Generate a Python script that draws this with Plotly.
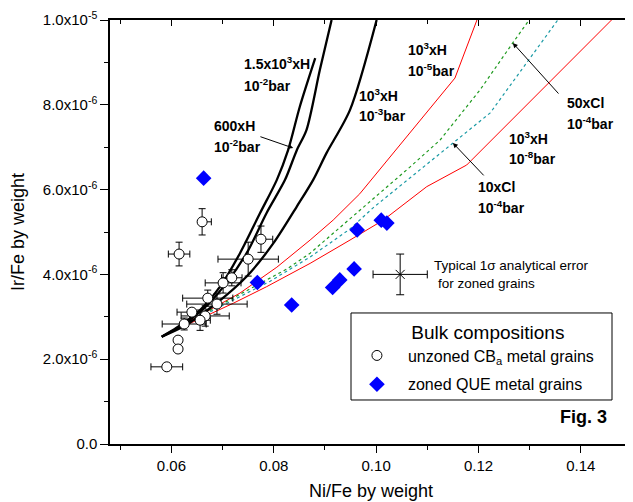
import plotly.graph_objects as go

S = 1e-6  # Ir/Fe values below are given in units of 1e-6

# ---- model curves (Ni/Fe, Ir/Fe x1e-6) ----
h1500_1e2_x = [0.0581, 0.0610, 0.0656, 0.0695, 0.0734, 0.0773, 0.0806, 0.0828, 0.0851, 0.0881]
h1500_1e2_y = [2.53, 2.74, 3.16, 3.71, 4.50, 5.44, 6.23, 6.93, 7.96, 9.10]

h600_1e2_x = [0.0581, 0.0613, 0.0662, 0.0703, 0.0747, 0.0786, 0.0822, 0.0845, 0.0864, 0.0890, 0.0913]
h600_1e2_y = [2.53, 2.74, 3.18, 3.73, 4.50, 5.45, 6.23, 6.93, 7.41, 8.82, 10.0]

h1000_1e3_x = [0.0581, 0.0623, 0.0688, 0.0747, 0.0799, 0.0845, 0.0877, 0.0903, 0.0949, 0.1001]
h1000_1e3_y = [2.53, 2.77, 3.32, 3.95, 4.73, 5.60, 6.23, 6.86, 7.88, 10.0]

h1000_1e5_x = [0.0582, 0.0734, 0.0806, 0.0871, 0.0916, 0.0968, 0.1154, 0.1197]
h1000_1e5_y = [2.54, 3.56, 4.17, 4.81, 5.28, 5.90, 8.63, 10.0]

h1000_1e8_x = [0.0582, 0.0721, 0.0786, 0.0871, 0.0949, 0.1014, 0.1099, 0.1177, 0.1460]
h1000_1e8_y = [2.54, 3.32, 3.71, 4.26, 4.81, 5.28, 6.07, 6.58, 10.0]

cl50_1e4_x = [0.0582, 0.0695, 0.0826, 0.0871, 0.0949, 0.1008, 0.1066, 0.1125, 0.1203, 0.1267, 0.1299]
cl50_1e4_y = [2.54, 3.28, 4.13, 4.50, 5.31, 5.92, 6.53, 7.17, 8.35, 9.46, 10.0]

cl10_1e4_x = [0.0582, 0.0720, 0.0793, 0.0871, 0.0949, 0.0994, 0.1072, 0.1150, 0.1223, 0.1355]
cl10_1e4_y = [2.54, 3.40, 3.84, 4.41, 5.07, 5.57, 6.34, 7.10, 7.81, 10.0]

# ---- unzoned CBa metal grains ----
cba_x   = [0.0660, 0.0615, 0.0775, 0.0750, 0.0718, 0.0701, 0.0671, 0.0689, 0.0666, 0.0656, 0.0625, 0.0640, 0.0613, 0.0613, 0.0591]
cba_y   = [5.24, 4.48, 4.83, 4.36, 3.92, 3.80, 3.44, 3.30, 3.02, 2.92, 2.83, 3.11, 2.45, 2.24, 1.82]
cba_ex  = [0.0018, 0.0021, 0.0023, 0.0059, 0.0020, 0.0035, 0.0049, 0.0059, 0.0047, 0.0020, 0.0043, 0.0029, 0.0, 0.0, 0.0031]
cba_exm = [0.0, 0.0021, 0.0, 0.0059, 0.0020, 0.0035, 0.0049, 0.0059, 0.0047, 0.0020, 0.0043, 0.0029, 0.0, 0.0, 0.0031]
cba_ey  = [0.31, 0.28, 0.31, 0.40, 0.19, 0.24, 0.19, 0.24, 0.24, 0.24, 0.14, 0.0, 0.0, 0.0, 0.0]

# ---- zoned QUE metal grains ----
que_x = [0.0663, 0.0768, 0.0835, 0.0915, 0.0929, 0.0957, 0.0963, 0.1010, 0.1021]
que_y = [6.27, 3.81, 3.28, 3.69, 3.87, 4.13, 5.05, 5.28, 5.21]

# ---- typical 1 sigma error ----
typ_x, typ_y, typ_ex, typ_ey = [0.1047], [4.00], [0.0053], [0.48]

x_ticks = [0.06, 0.08, 0.10, 0.12, 0.14]
x_ticktext = ["0.06", "0.08", "0.10", "0.12", "0.14"]
y_ticks = [0, 2e-6, 4e-6, 6e-6, 8e-6, 1e-5]
y_ticktext = ["0.0", "2.0x10<sup>-6</sup>", "4.0x10<sup>-6</sup>", "6.0x10<sup>-6</sup>",
              "8.0x10<sup>-6</sup>", "1.0x10<sup>-5</sup>"]

FONT = "Liberation Sans, Arial, sans-serif"
sc = lambda arr: [v * S for v in arr]

fig = go.Figure()

def line(x, y, color, width, dash="solid", shape="linear"):
    fig.add_trace(go.Scatter(x=x, y=sc(y), mode="lines", showlegend=False, hoverinfo="skip",
                             line=dict(color=color, width=width, dash=dash, shape=shape, smoothing=0.8)))

line(h1000_1e5_x, h1000_1e5_y, "#ff0000", 1)
line(h1000_1e8_x, h1000_1e8_y, "#ff0000", 1)
line(cl50_1e4_x, cl50_1e4_y, "#1f9a1f", 1.2, dash="3px,3px")
line(cl10_1e4_x, cl10_1e4_y, "#1a9aa5", 1.2, dash="3px,3px")
line(h1500_1e2_x, h1500_1e2_y, "black", 2.3, shape="spline")
line(h600_1e2_x, h600_1e2_y, "black", 2.3, shape="spline")
line(h1000_1e3_x, h1000_1e3_y, "black", 2.3, shape="spline")

fig.add_trace(go.Scatter(
    x=cba_x, y=sc(cba_y), mode="markers", name="unzoned CB<sub>a</sub> metal grains",
    legendgroup="a",
    marker=dict(symbol="circle", size=10, color="white", line=dict(color="black", width=1)),
    error_x=dict(type="data", array=cba_ex, arrayminus=cba_exm, symmetric=False, color="black", thickness=1, width=3.5),
    error_y=dict(type="data", array=sc(cba_ey), color="black", thickness=1, width=3.5)))

fig.add_trace(go.Scatter(
    x=que_x, y=sc(que_y), mode="markers", name="zoned QUE metal grains", legendgroup="b",
    marker=dict(symbol="diamond", size=12, color="#0000ff", line=dict(width=0))))

fig.add_trace(go.Scatter(
    x=typ_x, y=sc(typ_y), mode="markers", showlegend=False, hoverinfo="skip",
    marker=dict(symbol="x-thin", size=9, line=dict(color="black", width=1)),
    error_x=dict(type="data", array=typ_ex, color="black", thickness=1, width=4),
    error_y=dict(type="data", array=sc(typ_ey), color="black", thickness=1, width=4)))

# dummy trace for mirrored top/right axes
fig.add_trace(go.Scatter(x=[None], y=[None], xaxis="x2", yaxis="y2", showlegend=False, hoverinfo="skip"))

ann = []
def label(x, y, text, size=14, bold=True):
    t = "<b>%s</b>" % text if bold else text
    ann.append(dict(x=x, y=y * S, xref="x", yref="y", text=t, showarrow=False,
                    xanchor="left", yanchor="middle", font=dict(family=FONT, size=size, color="black")))

label(0.0738, 8.98, "1.5x10<sup>3</sup>xH")
label(0.0738, 8.47, "10<sup>-2</sup>bar")
label(0.0680, 7.50, "600xH")
label(0.0680, 7.02, "10<sup>-2</sup>bar")
label(0.0963, 8.23, "10<sup>3</sup>xH")
label(0.0963, 7.75, "10<sup>-3</sup>bar")
label(0.1058, 9.31, "10<sup>3</sup>xH")
label(0.1058, 8.82, "10<sup>-5</sup>bar")
label(0.1370, 8.04, "50xCl")
label(0.1370, 7.57, "10<sup>-4</sup>bar")
label(0.1256, 7.22, "10<sup>3</sup>xH")
label(0.1256, 6.75, "10<sup>-8</sup>bar")
label(0.1195, 6.06, "10xCl")
label(0.1195, 5.59, "10<sup>-4</sup>bar")
label(0.1110, 4.21, "Typical 1σ analytical error", size=13.5, bold=False)
label(0.1117, 3.79, "for zoned grains", size=13.5, bold=False)

def arrow(xt, yt, xh, yh):
    ann.append(dict(x=xh, y=yh * S, ax=xt, ay=yt * S, xref="x", yref="y", axref="x", ayref="y",
                    text="", showarrow=True, arrowhead=2, arrowsize=1, arrowwidth=1, arrowcolor="black"))

arrow(0.0771, 7.26, 0.0838, 6.98)
arrow(0.1359, 8.23, 0.1267, 9.46)
arrow(0.1213, 6.30, 0.1150, 7.10)

ann.append(dict(x=0.955, y=0.063, xref="paper", yref="paper", text="<b>Fig. 3</b>", showarrow=False,
                xanchor="right", yanchor="middle", font=dict(family=FONT, size=18, color="black")))

NB = "\u00a0"
fig.update_layout(
    width=625, height=494,
    margin=dict(l=102, r=1, t=12, b=58, autoexpand=False),
    paper_bgcolor="white", plot_bgcolor="white",
    font=dict(family=FONT, size=15, color="black"),
    annotations=ann,
    shapes=[dict(type="rect", xref="paper", yref="paper", x0=0.4617, x1=0.9617, y0=0.1038, y1=0.309,
                 line=dict(color="black", width=1), fillcolor="rgba(0,0,0,0)")],
    legend=dict(x=0.452, y=0.307, xanchor="left", yanchor="top", bgcolor="rgba(0,0,0,0)",
                borderwidth=0, font=dict(family=FONT, size=16), tracegroupgap=5, itemwidth=52,
                title=dict(text=NB * 12 + "Bulk compositions", side="top", font=dict(family=FONT, size=19))),
    xaxis=dict(range=[0.048, 0.150], tickvals=x_ticks, ticktext=x_ticktext, ticks="outside", ticklen=7,
               tickwidth=1, tickcolor="black", showline=True, linecolor="black", linewidth=1.5,
               showgrid=False, zeroline=False, automargin=False,
               minor=dict(tickvals=[0.05, 0.07, 0.09, 0.11, 0.13, 0.15], ticks="outside", ticklen=4, tickcolor="black"),
               title=dict(text="Ni/Fe by weight", font=dict(size=18), standoff=12)),
    yaxis=dict(range=[0, 1e-5], tickvals=y_ticks, ticktext=y_ticktext, ticks="outside", ticklen=8,
               tickwidth=1, tickcolor="black", showline=True, linecolor="black", linewidth=1.5,
               showgrid=False, zeroline=False, automargin=False,
               minor=dict(tickvals=[1e-6, 3e-6, 5e-6, 7e-6, 9e-6], ticks="outside", ticklen=4, tickcolor="black"),
               title=dict(text="Ir/Fe by weight", font=dict(size=18), standoff=17)),
    xaxis2=dict(range=[0.048, 0.150], overlaying="x", side="top", anchor="y", tickvals=x_ticks,
                ticks="inside", ticklen=6, tickcolor="black", showticklabels=False, showline=True,
                linecolor="black", linewidth=1.5, showgrid=False, zeroline=False, automargin=False,
                minor=dict(tickvals=[0.05, 0.07, 0.09, 0.11, 0.13, 0.15], ticks="inside", ticklen=4, tickcolor="black")),
    yaxis2=dict(range=[0, 1e-5], overlaying="y", side="right", anchor="x", tickvals=y_ticks,
                ticks="inside", ticklen=6, tickcolor="black", showticklabels=False, showline=True,
                linecolor="black", linewidth=1.5, showgrid=False, zeroline=False, automargin=False,
                minor=dict(tickvals=[1e-6, 3e-6, 5e-6, 7e-6, 9e-6], ticks="inside", ticklen=4, tickcolor="black")),
)

fig.write_html("out.html")
